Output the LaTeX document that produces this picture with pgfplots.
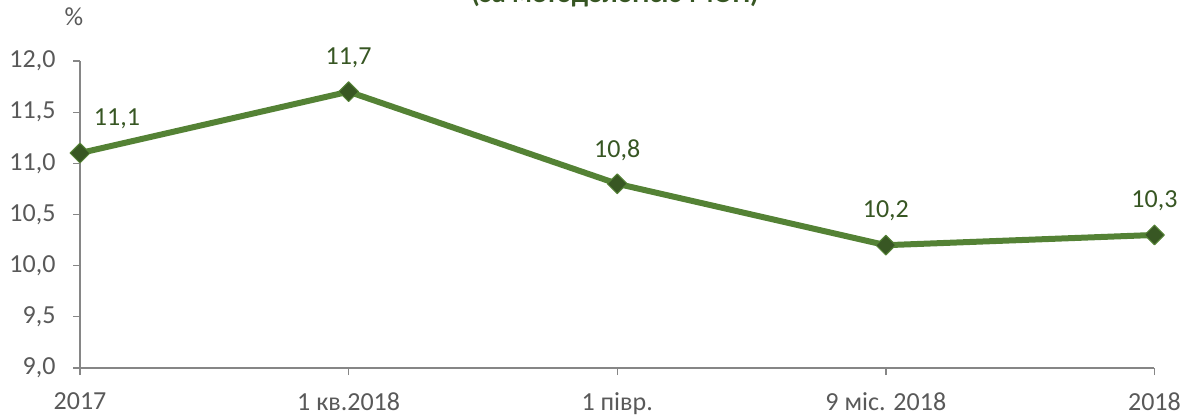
\documentclass[border=0pt]{standalone}
\usepackage{fontspec}
\setmainfont{Carlito}
\usepackage{pgfplots}
\pgfplotsset{compat=1.18}
\definecolor{lineg}{HTML}{548235}
\definecolor{markg}{HTML}{385723}
\definecolor{labg}{HTML}{375623}
\definecolor{axg}{HTML}{868686}
\definecolor{tickg}{HTML}{595959}
\begin{document}
\begin{tikzpicture}[font=\fontsize{26}{30}\selectfont]
\useasboundingbox (0,0) rectangle (1192pt,415pt);
\begin{axis}[
  at={(80pt,47pt)}, anchor=south west,
  scale only axis, width=1074.5pt, height=307pt,
  xmin=0, xmax=4, ymin=9, ymax=12,
  axis lines*=left,
  axis line style={axg, line width=1.3pt, -},
  xtick={0,1,2,3,4},
  xticklabels={2017, 1 кв.2018, 1 півр., 9 міс. 2018, 2018},
  ytick={9,9.5,10,10.5,11,11.5,12},
  tick align=outside, major tick length=7pt,
  tick style={axg, line width=1.3pt},
  tick label style={text=tickg},
  yticklabel style={xshift=-14pt},
  xticklabel style={yshift=-14pt},
  /pgf/number format/.cd, use comma, fixed, fixed zerofill, precision=1, assume math mode=true, /pgfplots/.cd,
  clip=false,
]
\addplot[lineg, line width=6pt, line join=round,
  mark=square*, mark size=7pt,
  mark options={rotate=45, fill=markg, draw=lineg, line width=1pt},
  nodes near coords, point meta=explicit,
  visualization depends on={\thisrow{dx} \as \dx},
  every node near coord/.append style={text=labg, anchor=center, xshift=\dx, yshift=34pt}]
  table[x=x, y=y, meta=y] {
x y dx
0 11.1 37
1 11.7 0
2 10.8 0
3 10.2 0
4 10.3 0
};
\end{axis}
\node[text=tickg] at (74pt,398pt) {\%};
\node[font=\fontsize{28}{30}\selectfont\bfseries, text=labg, anchor=base] at (615pt,412pt) {(за методологією МОП)};
\end{tikzpicture}
\end{document}
